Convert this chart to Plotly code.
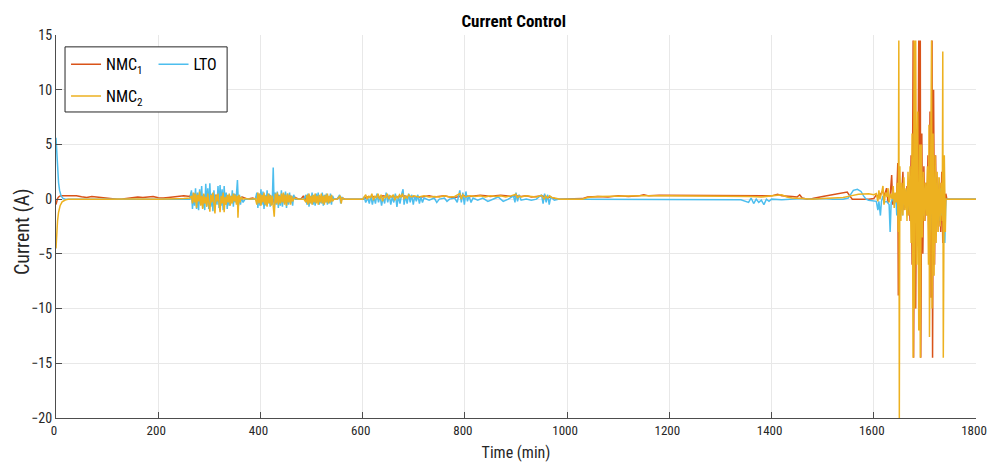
import plotly.graph_objects as go

# ---------------- data: (time [min], current [A]) ----------------
nmc1_points = [
    (0, -0.5), (1, -0.3), (2, -0.1), (3, 0.05), (5, 0.2), (8, 0.28), (12, 0.3), (20, 0.3), (30, 0.25),
    (40, 0.3), (50, 0.22), (60, 0.15), (70, 0.25), (80, 0.2), (90, 0.12), (100, 0.05), (110, 0.0),
    (120, 0.0), (130, 0.02), (140, 0.08), (150, 0.15), (160, 0.2), (170, 0.15), (180, 0.2), (190, 0.25),
    (200, 0.12), (210, 0.1), (220, 0.15), (230, 0.2), (240, 0.25), (250, 0.3), (262, 0.25),
    (265, 0.6), (268, -0.2), (271, 0.5), (274, 0.0), (277, 0.4), (280, -0.3), (283, 0.5), (286, 0.1),
    (289, 0.4), (292, -0.2), (295, 0.3), (298, 0.2), (301, 0.5), (304, -0.1), (307, 0.3), (310, 0.1),
    (313, 0.4), (316, -0.2), (319, 0.3), (322, 0.2), (325, 0.5), (328, 0.0), (331, 0.3), (334, -0.2),
    (337, 0.2), (340, -0.3), (343, -0.2), (346, 0.3), (349, 0.1), (352, 0.4), (355, 0.0), (358, 0.3),
    (361, -0.1), (364, 0.2), (370, 0.1), (375, 0.0), (380, 0.05), (385, 0.1), (390, 0.0), (393, 0.3),
    (396, -0.1), (399, 0.3), (402, 0.0), (405, 0.4), (408, -0.2), (411, 0.3), (414, 0.1), (417, 0.4),
    (420, 0.0), (423, 0.3), (426, -0.3), (429, 0.2), (432, 0.1), (435, 0.3), (438, 0.0), (441, 0.2),
    (444, 0.1), (447, 0.3), (450, 0.0), (453, 0.2), (456, 0.1), (459, 0.3), (462, 0.0), (465, 0.25),
    (470, 0.1), (475, 0.0), (480, 0.05), (484, 0.3), (487, -0.1), (490, 0.3), (493, 0.0), (496, 0.25),
    (499, 0.05), (502, 0.3), (505, -0.1), (508, 0.25), (511, 0.0), (514, 0.2), (520, 0.05), (525, 0.0),
    (530, 0.05), (540, 0.0), (550, 0.0), (555, 0.2), (558, -0.1), (561, 0.1), (565, 0.0), (580, 0.0),
    (600, 0.0), (610, 0.2), (620, 0.25), (630, 0.15), (640, 0.3), (650, 0.2), (660, 0.25), (670, 0.2),
    (680, 0.3), (690, 0.2), (700, 0.25), (710, 0.15), (720, 0.25), (730, 0.3), (740, 0.2), (750, 0.25),
    (760, 0.3), (770, 0.2), (780, 0.15), (790, 0.25), (800, 0.3), (810, 0.25), (820, 0.3), (830, 0.35),
    (840, 0.3), (850, 0.25), (860, 0.3), (870, 0.35), (880, 0.3), (890, 0.25), (900, 0.3), (910, 0.25),
    (920, 0.3), (930, 0.2), (940, 0.25), (950, 0.3), (960, 0.2), (970, 0.15), (980, 0.0), (1000, 0.0),
    (1030, 0.05), (1040, 0.2), (1060, 0.25), (1080, 0.2), (1100, 0.3), (1120, 0.25), (1140, 0.3),
    (1150, 0.4), (1160, 0.3), (1180, 0.35), (1200, 0.35), (1240, 0.3), (1280, 0.35), (1320, 0.3),
    (1350, 0.35), (1380, 0.3), (1400, 0.3), (1412, 0.45), (1420, 0.3), (1440, 0.25), (1450, 0.2),
    (1455, 0.4), (1460, 0.1), (1470, 0.0), (1480, 0.05), (1500, 0.25), (1520, 0.4), (1540, 0.6),
    (1548, 0.65), (1553, 0.3), (1558, 0.0), (1590, 0.0), (1600, 0.05), (1605, 0.4), (1610, 0.2),
    (1618, 0.8), (1620, 0.2), (1625, 1.0), (1628, -0.3), (1632, 0.3), (1635, 2.2), (1637, -0.5),
    (1640, 0.5), (1643, 0.0), (1645, 0.5), (1647, 3.3), (1648, -8.8), (1649, -2.0), (1651, 1.5),
    (1653, -1.0), (1655, 0.5), (1657, 2.5), (1659, -1.0), (1661, 0.8), (1663, -0.5), (1665, 1.2),
    (1667, -1.5), (1669, 0.8), (1671, -2.0), (1673, 4.0), (1675, -6.0), (1677, 14.5), (1678, -14.5),
    (1680, 8.0), (1682, -10.0), (1684, 5.0), (1686, -3.0), (1688, 14.5), (1689, -8.0), (1691, 14.5),
    (1692, -14.5), (1694, 6.0), (1696, -5.0), (1698, 3.0), (1700, -2.0), (1702, 1.5), (1704, -1.5),
    (1706, 4.0), (1708, -5.0), (1710, 8.0), (1712, -9.0), (1714, 14.5), (1715, -14.5), (1717, 10.0),
    (1719, -6.0), (1721, 4.0), (1723, -3.0), (1725, 2.0), (1727, -2.5), (1729, 1.5), (1731, -3.0),
    (1733, 2.5), (1735, -4.0), (1737, 3.6), (1739, -2.0), (1741, 0.5), (1743, 0.0), (1800, 0.0),
]

lto_points = [
    (0, 5.6), (1, 4.5), (2, 3.5), (3, 2.6), (5, 1.5), (7, 0.8), (10, 0.3), (14, 0.05), (20, -0.02),
    (50, 0.0), (100, -0.02), (150, 0.0), (200, -0.02), (250, 0.0), (262, 0.0),
    (265, 0.8), (267, -0.9), (269, 0.5), (271, -0.6), (273, 1.0), (275, -0.9), (277, 0.6), (279, -1.0),
    (281, 0.9), (283, -0.5), (285, 1.2), (287, -0.8), (289, 0.4), (291, -1.0), (293, 1.4), (295, -0.6),
    (297, 1.0), (299, -0.9), (301, 1.45), (303, -0.7), (305, 0.5), (307, -1.1), (309, 0.8), (311, -0.7),
    (313, 0.3), (315, -0.5), (317, 1.2), (319, -0.8), (321, 1.3), (323, -0.6), (325, 0.9), (327, -1.0),
    (329, 1.2), (331, -0.5), (333, 0.6), (335, -0.9), (337, 0.4), (339, -0.6), (341, 0.3), (343, -0.4),
    (345, 0.8), (347, -0.7), (349, 0.5), (351, -0.3), (353, 0.4), (355, 1.75), (357, -0.6), (359, 0.4),
    (361, -0.5), (363, 0.2), (366, -0.3), (370, 0.0), (390, 0.0), (393, 0.6), (395, -0.8), (397, 0.5),
    (399, -0.6), (401, 0.9), (403, -0.5), (405, 0.7), (407, -0.9), (409, 0.4), (411, -0.6), (413, 0.8),
    (415, -0.4), (417, 0.5), (419, -0.7), (421, 0.3), (423, -0.5), (425, 2.9), (427, -0.9), (429, 0.6),
    (431, -0.5), (433, 0.7), (435, -0.8), (437, 0.4), (439, -0.6), (441, 0.8), (443, -0.7), (445, 0.5),
    (447, -0.4), (449, 0.7), (451, -0.8), (453, 0.5), (455, -0.5), (457, 0.6), (459, -0.4), (461, 0.3),
    (463, -0.6), (465, 0.4), (468, 0.0), (485, 0.0), (489, 0.4), (491, -0.5), (493, 0.5), (495, -0.7),
    (497, 0.3), (499, -0.4), (501, 0.6), (503, -0.5), (505, 0.4), (507, -0.6), (509, 0.5), (511, -0.3),
    (513, 0.6), (515, -0.5), (517, 0.3), (519, -0.4), (521, 0.6), (523, -0.6), (525, 0.4), (527, -0.3),
    (529, 0.5), (531, -0.5), (533, 0.3), (535, -0.4), (537, 0.5), (539, -0.5), (541, 0.3), (544, 0.0),
    (550, 0.0), (555, 0.4), (557, -0.4), (559, 0.2), (562, 0.0), (600, 0.0),
    (603, 0.2), (606, -0.3), (610, 0.1), (613, -0.4), (616, 0.3), (619, -0.5), (622, 0.2), (625, -0.4),
    (628, 0.5), (631, -0.3), (634, 0.3), (637, -0.6), (640, 0.2), (643, -0.4), (646, 0.6), (649, -0.3),
    (652, 0.4), (655, -0.5), (658, 0.2), (661, -0.3), (664, 0.5), (667, -0.7), (670, 0.3), (673, -0.4),
    (676, 0.4), (679, 0.9), (681, -0.5), (684, 0.3), (687, -0.4), (690, 0.5), (693, -0.3), (696, 0.4),
    (699, -0.5), (702, 0.3), (705, -0.2), (708, 0.4), (711, -0.4), (714, 0.2), (717, -0.3), (720, 0.1),
    (730, -0.1), (740, 0.1), (745, -0.3), (750, 0.0), (760, 0.1), (765, -0.2), (770, 0.0), (780, 0.1),
    (785, -0.3), (790, 0.8), (793, -0.3), (796, 0.6), (799, -0.5), (802, 0.7), (805, -0.2), (808, 0.3),
    (812, -0.3), (816, 0.1), (825, -0.1), (835, 0.1), (845, -0.2), (855, 0.0), (865, 0.2), (875, -0.2),
    (885, 0.0), (895, 0.3), (898, -0.3), (900, 0.6), (903, -0.2), (906, 0.4), (910, -0.1), (920, 0.0),
    (930, -0.1), (940, 0.0), (950, 0.4), (953, -0.4), (956, 0.5), (959, -0.3), (962, 0.4), (965, -0.5),
    (968, 0.2), (975, -0.1), (985, 0.0), (1030, 0.0), (1040, 0.0), (1080, -0.05), (1120, 0.0),
    (1160, -0.05), (1200, 0.0), (1250, -0.05), (1300, 0.0), (1340, -0.05), (1355, -0.3), (1360, 0.1),
    (1365, -0.4), (1370, 0.0), (1375, -0.3), (1380, -0.1), (1385, -0.5), (1390, 0.0), (1395, -0.2),
    (1400, 0.0), (1420, -0.05), (1440, 0.0), (1460, 0.05), (1480, 0.0), (1500, 0.05), (1520, 0.0),
    (1540, 0.0), (1550, 0.1), (1555, 0.5), (1560, 0.8), (1568, 0.9), (1575, 0.7), (1580, 0.3),
    (1585, 0.0), (1590, -0.1), (1600, -0.15), (1605, -0.2), (1608, -1.0), (1610, -0.2), (1613, -1.5),
    (1615, -0.2), (1618, 0.3), (1620, -0.3), (1625, -0.2), (1630, -0.5), (1632, -3.0), (1634, -0.3),
    (1638, 0.2), (1640, -0.5), (1643, 0.5), (1645, -1.5), (1647, 0.3), (1650, -1.0), (1653, 0.5),
    (1656, -1.5), (1658, 0.5), (1660, -0.5), (1663, 0.8), (1666, -1.0), (1670, 0.5), (1673, -1.5),
    (1676, 2.0), (1679, -3.0), (1682, 2.5), (1685, -2.0), (1688, 1.5), (1691, -2.5), (1694, 2.0),
    (1697, -1.5), (1700, 1.0), (1703, -1.0), (1706, 2.0), (1709, -2.0), (1712, 2.5), (1715, -3.0),
    (1718, 2.0), (1721, -1.5), (1724, 1.5), (1727, -2.0), (1730, 1.0), (1733, -1.5), (1736, 1.0),
    (1739, -4.0), (1741, 0.0), (1800, 0.0),
]

nmc2_points = [
    (0, -4.5), (1, -3.5), (2, -2.7), (3, -2.0), (5, -1.2), (8, -0.6), (12, -0.25), (18, -0.08),
    (25, 0.0), (50, 0.02), (100, 0.0), (150, 0.02), (200, 0.0), (250, 0.05), (262, 0.1),
    (265, 0.3), (267, -0.4), (269, 0.6), (271, -0.3), (273, 0.5), (275, -0.8), (277, 0.4), (279, -0.2),
    (281, 0.7), (283, -0.6), (285, 0.3), (287, -0.9), (289, 0.5), (291, -0.4), (293, 0.2), (295, -0.7),
    (297, 0.5), (299, -0.5), (301, -1.15), (303, 0.4), (305, -0.3), (307, 0.6), (309, -0.8), (311, -1.3),
    (313, 0.4), (315, -0.2), (317, 0.5), (319, -0.7), (321, -1.2), (323, 0.3), (325, -0.4), (327, 0.6),
    (329, -1.2), (331, 0.2), (333, -0.5), (335, 0.4), (337, -0.3), (339, 0.5), (341, -0.6), (343, 0.3),
    (345, -0.4), (347, 0.5), (349, -0.2), (351, 0.4), (353, -0.5), (355, 0.3), (356, -1.7), (358, 0.4),
    (360, -0.3), (362, 0.2), (365, 0.0), (370, 0.05), (380, 0.0), (390, 0.05), (393, -0.5), (395, 0.6),
    (397, -0.4), (399, 0.5), (401, -0.6), (403, 0.4), (405, -0.3), (407, 0.6), (409, -0.5), (411, 0.3),
    (413, -0.7), (415, 0.5), (417, -0.4), (419, 0.4), (421, -0.6), (423, 0.3), (427, -1.6), (429, 0.5),
    (431, -0.4), (433, 0.6), (435, -0.5), (437, 0.3), (439, -0.4), (441, 0.5), (443, -0.3), (445, 0.6),
    (447, -0.5), (449, 0.4), (451, -0.6), (453, 0.5), (455, -0.3), (457, 0.4), (459, -0.5), (461, 0.3),
    (463, -0.2), (466, 0.1), (475, 0.0), (485, 0.0), (489, -0.3), (491, 0.4), (493, -0.5), (495, 0.5),
    (497, -0.4), (499, 0.3), (501, -0.5), (503, 0.4), (505, -0.3), (507, 0.5), (509, -0.4), (511, 0.3),
    (513, -0.5), (515, 0.4), (517, -0.3), (519, 0.5), (521, -0.4), (523, 0.3), (525, -0.5), (527, 0.4),
    (529, -0.3), (531, 0.5), (533, -0.4), (535, 0.3), (537, -0.3), (539, 0.4), (541, -0.2), (544, 0.0),
    (550, 0.0), (556, 0.3), (558, -0.4), (560, 0.1), (565, 0.0), (600, 0.0),
    (603, 0.2), (606, 0.4), (609, 0.0), (612, 0.3), (615, 0.1), (618, 0.5), (621, -0.1), (624, 0.3),
    (627, 0.1), (630, 0.5), (633, 0.0), (636, 0.4), (639, -0.2), (642, 0.3), (645, 0.1), (648, 0.5),
    (651, 0.0), (654, 0.3), (657, 0.2), (660, 0.4), (663, -0.1), (666, 0.3), (669, 0.1), (672, 0.4),
    (675, 0.2), (678, 0.5), (681, 0.0), (684, 0.3), (687, 0.1), (690, 0.4), (695, 0.2), (700, 0.3),
    (710, 0.2), (720, 0.3), (730, 0.2), (740, 0.25), (750, 0.2), (760, 0.3), (770, 0.2), (780, 0.25),
    (790, 0.5), (793, 0.0), (796, 0.4), (800, 0.2), (810, 0.3), (820, 0.25), (830, 0.3), (840, 0.2),
    (850, 0.3), (860, 0.25), (870, 0.3), (880, 0.2), (890, 0.3), (900, 0.45), (903, 0.1), (906, 0.3),
    (910, 0.2), (920, 0.3), (930, 0.25), (940, 0.2), (950, 0.35), (955, 0.0), (958, 0.3), (962, 0.1),
    (966, 0.3), (970, 0.15), (980, 0.05), (985, 0.0), (1030, 0.0), (1040, 0.15), (1060, 0.25),
    (1100, 0.3), (1150, 0.3), (1200, 0.3), (1250, 0.3), (1300, 0.3), (1340, 0.3), (1360, 0.25),
    (1380, 0.2), (1400, 0.3), (1410, 0.35), (1420, 0.4), (1430, 0.2), (1440, 0.1), (1460, 0.05),
    (1480, 0.0), (1500, 0.05), (1520, 0.1), (1540, 0.15), (1555, 0.3), (1570, 0.45), (1590, 0.5),
    (1600, 0.4), (1605, 0.5), (1608, -0.2), (1610, 0.8), (1612, 0.0), (1615, 0.5), (1618, 1.2),
    (1620, -0.5), (1623, 0.6), (1626, 0.2), (1628, 1.0), (1630, -0.3), (1633, 0.5), (1636, 0.0),
    (1638, 1.2), (1640, -0.8), (1642, 0.6), (1644, -0.3), (1646, 1.5), (1648, -3.0), (1649, 14.5),
    (1650, -20.0), (1651, 3.0), (1653, -2.0), (1655, 1.5), (1657, -1.5), (1659, 2.0), (1661, -1.0),
    (1663, 1.0), (1665, -2.0), (1667, 2.5), (1669, -1.5), (1671, 3.0), (1673, -4.0), (1675, 6.0),
    (1677, -14.5), (1679, 14.5), (1680, -10.0), (1682, 14.5), (1684, -6.0), (1686, 8.0), (1688, -12.0),
    (1690, 5.0), (1691, -14.5), (1693, 5.0), (1695, -3.5), (1697, 2.5), (1699, -2.0), (1701, 1.5),
    (1703, -1.5), (1705, 3.0), (1707, -6.0), (1708, 6.8), (1709, -12.6), (1711, 5.0), (1713, 14.5),
    (1714, -10.0), (1716, 6.0), (1718, -7.0), (1720, 4.0), (1722, -4.0), (1724, 2.5), (1726, -3.0),
    (1728, 2.0), (1730, -2.5), (1732, 1.5), (1734, -2.0), (1735, 13.5), (1736, -14.5), (1738, 4.0),
    (1740, -3.0), (1741, 0.0), (1800, 0.0),
]

x_ticks = [0, 200, 400, 600, 800, 1000, 1200, 1400, 1600, 1800]
y_ticks = [-20, -15, -10, -5, 0, 5, 10, 15]

series = [
    ("NMC<sub>1</sub>", nmc1_points, "#D95319", "legend"),
    ("LTO", lto_points, "#4DBEEE", "legend2"),
    ("NMC<sub>2</sub>", nmc2_points, "#EDB120", "legend"),
]

FONT = "Roboto Condensed, Liberation Sans, Arial, sans-serif"
AX = "#4d4d4d"

fig = go.Figure()
for name, pts, color, leg in series:
    fig.add_trace(go.Scatter(
        x=[p[0] for p in pts], y=[p[1] for p in pts], mode="lines", name=name,
        line=dict(color=color, width=1.5), legend=leg, legendgroup=name,
    ))

fig.update_layout(
    width=987, height=466,
    margin=dict(l=56, r=11, t=35, b=48),
    paper_bgcolor="white", plot_bgcolor="white",
    font=dict(family=FONT, size=14, color="#262626"),
    title=dict(text="<b>Current Control</b>", x=0.5205, xanchor="center", y=0.955, yanchor="middle",
               font=dict(size=17, color="#000000", family=FONT)),
    showlegend=True,
    legend=dict(x=0.0109, y=0.968, xanchor="left", yanchor="top", bgcolor="rgba(0,0,0,0)",
                borderwidth=0, font=dict(size=16, color="#000000", family=FONT), tracegroupgap=8),
    legend2=dict(x=0.106, y=0.968, xanchor="left", yanchor="top", bgcolor="rgba(0,0,0,0)",
                 borderwidth=0, font=dict(size=16, color="#000000", family=FONT)),
    xaxis=dict(range=[0, 1800], tickvals=x_ticks, showgrid=True, gridcolor="#e8e8e8",
               showline=True, linecolor=AX, ticks="inside", ticklen=6, tickcolor=AX,
               zeroline=False, ticklabeloverflow="allow", ticklabelshift=-2, automargin=False,
               title=dict(text="Time (min)", font=dict(size=16, family=FONT), standoff=10),
               tickfont=dict(size=13, family=FONT)),
    yaxis=dict(range=[-20, 15], tickvals=y_ticks, showgrid=True, gridcolor="#e8e8e8",
               showline=True, linecolor=AX, ticks="inside", ticklen=6, tickcolor=AX,
               zeroline=False, automargin=False,
               tickfont=dict(size=14, family=FONT)),
    annotations=[dict(text="Current (A)", textangle=-90, xref="paper", yref="paper",
                      x=-0.037, y=0.488, xanchor="center", yanchor="middle", showarrow=False,
                      font=dict(size=20, family=FONT, color="#262626"))],
    shapes=[dict(type="rect", xref="paper", yref="paper", x0=0.0098, x1=0.186, y0=0.799, y1=0.969,
                 line=dict(color="#262626", width=1), fillcolor="white", layer="above")],
)

fig.write_html("out.html")
